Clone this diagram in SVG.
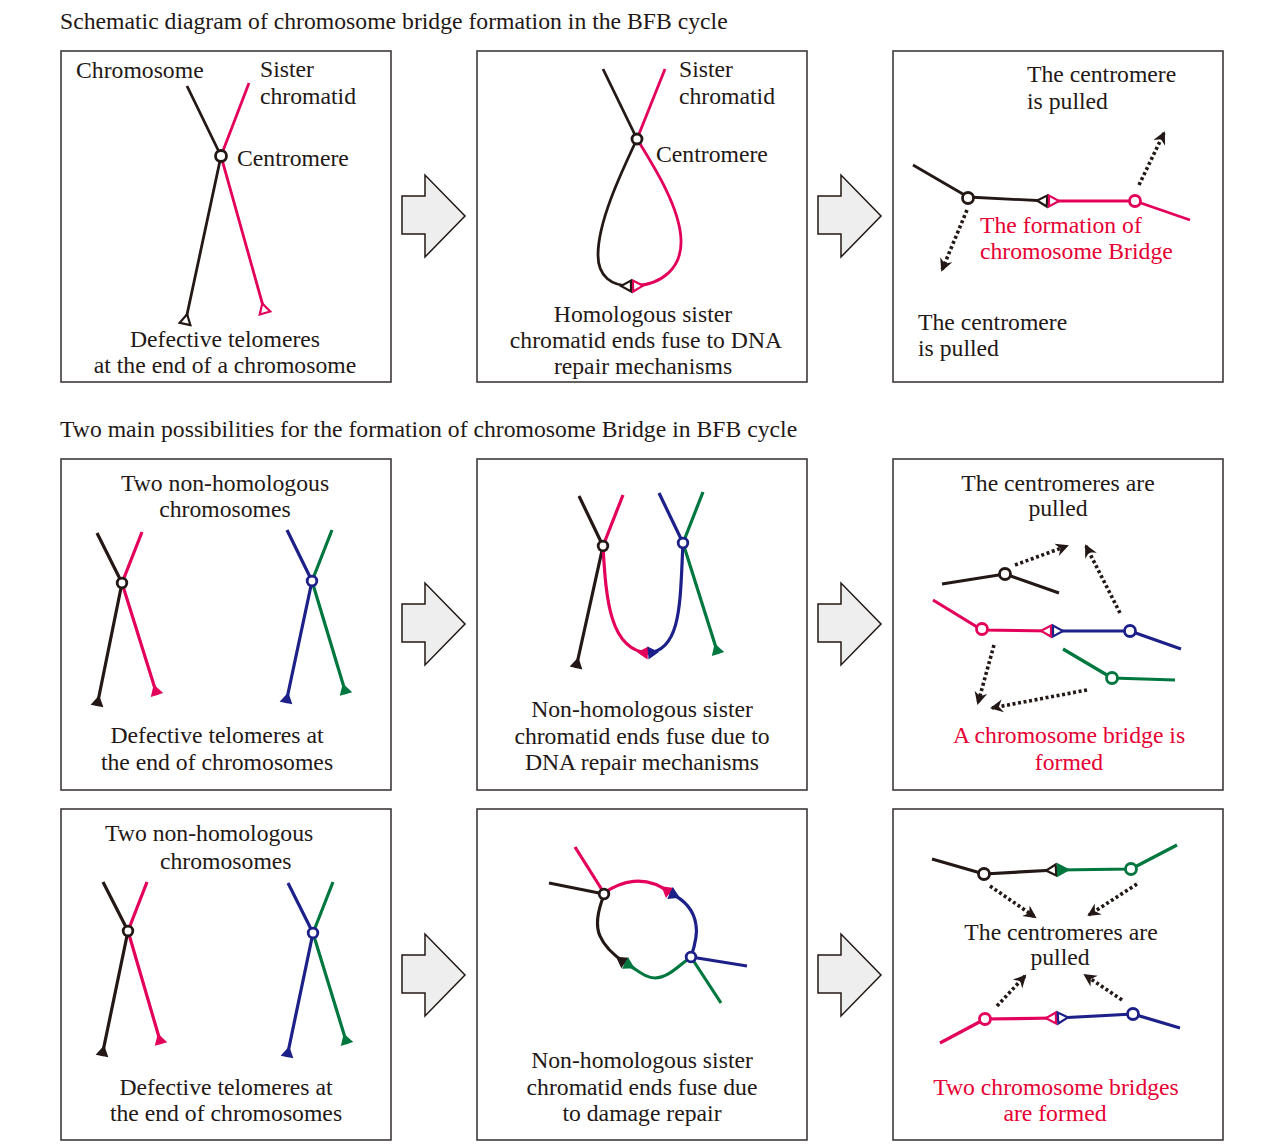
<svg xmlns="http://www.w3.org/2000/svg" width="1269" height="1147" viewBox="0 0 1269 1147">
<style>
text{font-family:"Liberation Serif","Times New Roman",serif;font-size:23.7px;fill:#231815}
.red{fill:#e60033}
.mid{text-anchor:middle}
.box{fill:#fff;stroke:#3e3a39;stroke-width:1.6}
.blk{fill:#eeeeee;stroke:#231815;stroke-width:1.5;stroke-linejoin:miter}
.ln{fill:none;stroke-width:2.8;stroke-linecap:butt;stroke-linejoin:round}
.ln3{fill:none;stroke-width:3.2;stroke-linecap:butt;stroke-linejoin:round}
.k{stroke:#231815}.r{stroke:#e3005a}.b{stroke:#1d2088}.g{stroke:#00773f}
.cen{fill:#fff;stroke-width:2.8}
.dot{fill:none;stroke:#231815;stroke-width:3.6;stroke-dasharray:3 2.6;marker-end:url(#ah)}
</style>
<defs>
<marker id="ok" markerUnits="userSpaceOnUse" viewBox="-14 -8 16 16" markerWidth="16" markerHeight="16" refX="0" refY="0" orient="auto"><path d="M0,-5.5 L0,5.5 L-10,0 Z" fill="#fff" stroke="#231815" stroke-width="2.2"/></marker>
<marker id="or" markerUnits="userSpaceOnUse" viewBox="-14 -8 16 16" markerWidth="16" markerHeight="16" refX="0" refY="0" orient="auto"><path d="M0,-5.5 L0,5.5 L-10,0 Z" fill="#fff" stroke="#e3005a" stroke-width="2.2"/></marker>
<marker id="ob" markerUnits="userSpaceOnUse" viewBox="-14 -8 16 16" markerWidth="16" markerHeight="16" refX="0" refY="0" orient="auto"><path d="M0,-5.5 L0,5.5 L-10,0 Z" fill="#fff" stroke="#1d2088" stroke-width="2.2"/></marker>
<marker id="og" markerUnits="userSpaceOnUse" viewBox="-14 -8 16 16" markerWidth="16" markerHeight="16" refX="0" refY="0" orient="auto"><path d="M0,-5.5 L0,5.5 L-10,0 Z" fill="#00773f" stroke="#00773f" stroke-width="2.2"/></marker>
<marker id="fk" markerUnits="userSpaceOnUse" viewBox="-14 -8 16 16" markerWidth="16" markerHeight="16" refX="0" refY="0" orient="auto"><path d="M0,-6.5 L0,6.5 L-11,0 Z" fill="#231815"/></marker>
<marker id="fr" markerUnits="userSpaceOnUse" viewBox="-14 -8 16 16" markerWidth="16" markerHeight="16" refX="0" refY="0" orient="auto"><path d="M0,-6.5 L0,6.5 L-11,0 Z" fill="#e3005a"/></marker>
<marker id="fb" markerUnits="userSpaceOnUse" viewBox="-14 -8 16 16" markerWidth="16" markerHeight="16" refX="0" refY="0" orient="auto"><path d="M0,-6.5 L0,6.5 L-11,0 Z" fill="#1d2088"/></marker>
<marker id="fg" markerUnits="userSpaceOnUse" viewBox="-14 -8 16 16" markerWidth="16" markerHeight="16" refX="0" refY="0" orient="auto"><path d="M0,-6.5 L0,6.5 L-11,0 Z" fill="#00773f"/></marker>
<marker id="ah" markerUnits="userSpaceOnUse" viewBox="-14 -8 18 16" markerWidth="18" markerHeight="16" refX="0" refY="0" orient="auto"><path d="M2,0 L-11,-6.5 L-7,0 L-11,6.5 Z" fill="#231815"/></marker>
</defs>
<rect width="1269" height="1147" fill="#fff"/>

<text x="60" y="29">Schematic diagram of chromosome bridge formation in the BFB cycle</text>
<text x="60" y="437">Two main possibilities for the formation of chromosome Bridge in BFB cycle</text>

<g id="frames">
<rect class="box" x="61" y="51" width="330" height="331"/>
<rect class="box" x="477" y="51" width="330" height="331"/>
<rect class="box" x="893" y="51" width="330" height="331"/>
<rect class="box" x="61" y="459" width="330" height="331"/>
<rect class="box" x="477" y="459" width="330" height="331"/>
<rect class="box" x="893" y="459" width="330" height="331"/>
<rect class="box" x="61" y="809" width="330" height="331"/>
<rect class="box" x="477" y="809" width="330" height="331"/>
<rect class="box" x="893" y="809" width="330" height="331"/>
</g>

<g id="connectors">
<path class="blk" d="M402,196 L425,196 L425,175 L465,216 L425,257 L425,234 L402,234 Z"/>
<path class="blk" d="M818,196 L841,196 L841,175 L881,216 L841,257 L841,234 L818,234 Z"/>
<path class="blk" d="M402,604 L425,604 L425,583 L465,624 L425,665 L425,642 L402,642 Z"/>
<path class="blk" d="M818,604 L841,604 L841,583 L881,624 L841,665 L841,642 L818,642 Z"/>
<path class="blk" d="M402,955 L425,955 L425,934 L465,975 L425,1016 L425,993 L402,993 Z"/>
<path class="blk" d="M818,955 L841,955 L841,934 L881,975 L841,1016 L841,993 L818,993 Z"/>
</g>

<g id="panel1">
<path class="ln r" d="M249,83 L221,156 L265,313" marker-end="url(#or)"/>
<path class="ln k" d="M187,86 L221,156 L185,324" marker-end="url(#ok)"/>
<circle class="cen k" cx="221" cy="156" r="5.5"/>
<text x="76" y="78">Chromosome</text>
<text x="260" y="77">Sister</text>
<text x="260" y="104">chromatid</text>
<text x="237" y="166">Centromere</text>
<text class="mid" x="225" y="347">Defective telomeres</text>
<text class="mid" x="225" y="373">at the end of a chromosome</text>
</g>

<g id="panel2">
<path class="ln k" d="M603,69 L637,139"/>
<path class="ln r" d="M665,69 L637,139"/>
<path class="ln r" d="M637,139 C655,168 680,208 681,240 C682,268 662,285 633,286" marker-end="url(#or)"/>
<path class="ln k" d="M637,139 C620,175 598,222 598,255 C598,277 612,286 631,286" marker-end="url(#ok)"/>
<circle class="cen k" cx="637" cy="139" r="5"/>
<text x="679" y="77">Sister</text>
<text x="679" y="104">chromatid</text>
<text x="656" y="162">Centromere</text>
<text class="mid" x="643" y="322">Homologous sister</text>
<text class="mid" x="646" y="348">chromatid ends fuse to DNA</text>
<text class="mid" x="643" y="374">repair mechanisms</text>
</g>

<g id="panel3">
<path class="ln k" d="M913,165 L968,197 L1047,201" marker-end="url(#ok)"/>
<path class="ln r" d="M1190,220 L1135,201 L1049,201" marker-end="url(#or)"/>
<circle class="cen k" cx="968" cy="198" r="5.5"/>
<circle class="cen r" cx="1135" cy="201" r="5.5"/>
<path class="dot" d="M1139,185 L1164,133"/>
<path class="dot" d="M967,210 L942,270"/>
<text x="1027" y="82">The centromere</text>
<text x="1027" y="109">is pulled</text>
<text class="red" x="980" y="233">The formation of</text>
<text class="red" x="980" y="259">chromosome Bridge</text>
<text x="918" y="330">The centromere</text>
<text x="918" y="356">is pulled</text>
</g>

<g id="panel4">
<path class="ln3 r" d="M142,532 L122,583 L157,695" marker-end="url(#fr)"/>
<path class="ln3 k" d="M97,533 L122,583 L97,706" marker-end="url(#fk)"/>
<circle class="cen k" cx="122" cy="583" r="4.8"/>
<path class="ln3 g" d="M332,530 L312,581 L346,694" marker-end="url(#fg)"/>
<path class="ln3 b" d="M287,530 L312,581 L286,703" marker-end="url(#fb)"/>
<circle class="cen b" cx="312" cy="581" r="4.8"/>
<text class="mid" x="225" y="491">Two non-homologous</text>
<text class="mid" x="225" y="517">chromosomes</text>
<text class="mid" x="217" y="743">Defective telomeres at</text>
<text class="mid" x="217" y="770">the end of chromosomes</text>
</g>

<g id="panel5">
<path class="ln3 r" d="M623,495 L603,546"/>
<path class="ln3 k" d="M579,496 L603,546 L576,668" marker-end="url(#fk)"/>
<path class="ln3 r" d="M603,546 C606,600 610,650 648,653" marker-end="url(#fr)"/>
<circle class="cen k" cx="603" cy="546" r="4.8"/>
<path class="ln3 b" d="M659,493 L683,543"/>
<path class="ln3 g" d="M703,492 L683,543 L718,654" marker-end="url(#fg)"/>
<path class="ln3 b" d="M683,543 C680,600 682,650 648,653" marker-end="url(#fb)"/>
<circle class="cen b" cx="683" cy="543" r="4.8"/>
<text class="mid" x="642" y="717">Non-homologous sister</text>
<text class="mid" x="642" y="744">chromatid ends fuse due to</text>
<text class="mid" x="642" y="770">DNA repair mechanisms</text>
</g>

<g id="panel6">
<path class="ln3 k" d="M942,584 L1005,574 L1059,593"/>
<circle class="cen k" cx="1005" cy="574" r="5.5"/>
<path class="ln3 r" d="M933,600 L982,630 L1051,631" marker-end="url(#or)"/>
<path class="ln3 b" d="M1181,649 L1130,631 L1053,631" marker-end="url(#ob)"/>
<circle class="cen r" cx="982" cy="629" r="5.5"/>
<circle class="cen b" cx="1130" cy="631" r="5.5"/>
<path class="ln3 g" d="M1063,649 L1112,678 L1175,680"/>
<circle class="cen g" cx="1112" cy="678" r="5.5"/>
<path class="dot" d="M1015,565 L1067,546"/>
<path class="dot" d="M1120,613 L1086,546"/>
<path class="dot" d="M994,645 L978,703"/>
<path class="dot" d="M1087,690 L992,708"/>
<text class="mid" x="1058" y="491">The centromeres are</text>
<text class="mid" x="1058" y="516">pulled</text>
<text class="red mid" x="1069" y="743">A chromosome bridge is</text>
<text class="red mid" x="1069" y="770">formed</text>
</g>

<g id="panel7">
<path class="ln3 r" d="M147,882 L128,931 L161,1044" marker-end="url(#fr)"/>
<path class="ln3 k" d="M103,882 L128,931 L102,1056" marker-end="url(#fk)"/>
<circle class="cen k" cx="128" cy="931" r="4.8"/>
<path class="ln3 g" d="M333,882 L313,933 L347,1044" marker-end="url(#fg)"/>
<path class="ln3 b" d="M288,883 L313,933 L287,1057" marker-end="url(#fb)"/>
<circle class="cen b" cx="313" cy="933" r="4.8"/>
<text x="105" y="841">Two non-homologous</text>
<text x="160" y="869">chromosomes</text>
<text class="mid" x="226" y="1095">Defective telomeres at</text>
<text class="mid" x="226" y="1121">the end of chromosomes</text>
</g>

<g id="panel8">
<path class="ln3 r" d="M575,847 L604,893"/>
<path class="ln3 k" d="M549,883 L604,894"/>
<path class="ln3 r" d="M604,893 C620,882 645,873 670,893" marker-end="url(#fr)"/>
<path class="ln3 b" d="M691,957 C694,948 698,935 696,925 C694,910 685,900 670,893" marker-end="url(#fb)"/>
<path class="ln3 k" d="M604,895 C598,910 595,925 600,936 C605,948 615,956 625,963" marker-end="url(#fk)"/>
<path class="ln3 g" d="M691,957 C678,966 668,978 655,978 C645,978 638,970 625,963" marker-end="url(#fg)"/>
<path class="ln3 b" d="M691,957 L747,966"/>
<path class="ln3 g" d="M691,957 L721,1003"/>
<circle class="cen k" cx="604" cy="894" r="4.8"/>
<circle class="cen b" cx="691" cy="957" r="4.8"/>
<text class="mid" x="642" y="1068">Non-homologous sister</text>
<text class="mid" x="642" y="1095">chromatid ends fuse due</text>
<text class="mid" x="642" y="1121">to damage repair</text>
</g>

<g id="panel9">
<path class="ln3 k" d="M932,859 L984,874 L1056,870" marker-end="url(#ok)"/>
<path class="ln3 g" d="M1177,845 L1131,869 L1058,870" marker-end="url(#og)"/>
<circle class="cen k" cx="984" cy="874" r="5.5"/>
<circle class="cen g" cx="1131" cy="869" r="5.5"/>
<path class="ln3 r" d="M940,1043 L985,1019 L1056,1018" marker-end="url(#or)"/>
<path class="ln3 b" d="M1180,1028 L1133,1014 L1058,1018" marker-end="url(#ob)"/>
<circle class="cen r" cx="985" cy="1019" r="5.5"/>
<circle class="cen b" cx="1133" cy="1014" r="5.5"/>
<path class="dot" d="M990,886 L1035,917"/>
<path class="dot" d="M1137,884 L1089,915"/>
<path class="dot" d="M997,1006 L1025,976"/>
<path class="dot" d="M1122,1000 L1085,975"/>
<text class="mid" x="1061" y="940">The centromeres are</text>
<text class="mid" x="1060" y="965">pulled</text>
<text class="red mid" x="1056" y="1095">Two chromosome bridges</text>
<text class="red mid" x="1055" y="1121">are formed</text>
</g>
</svg>
